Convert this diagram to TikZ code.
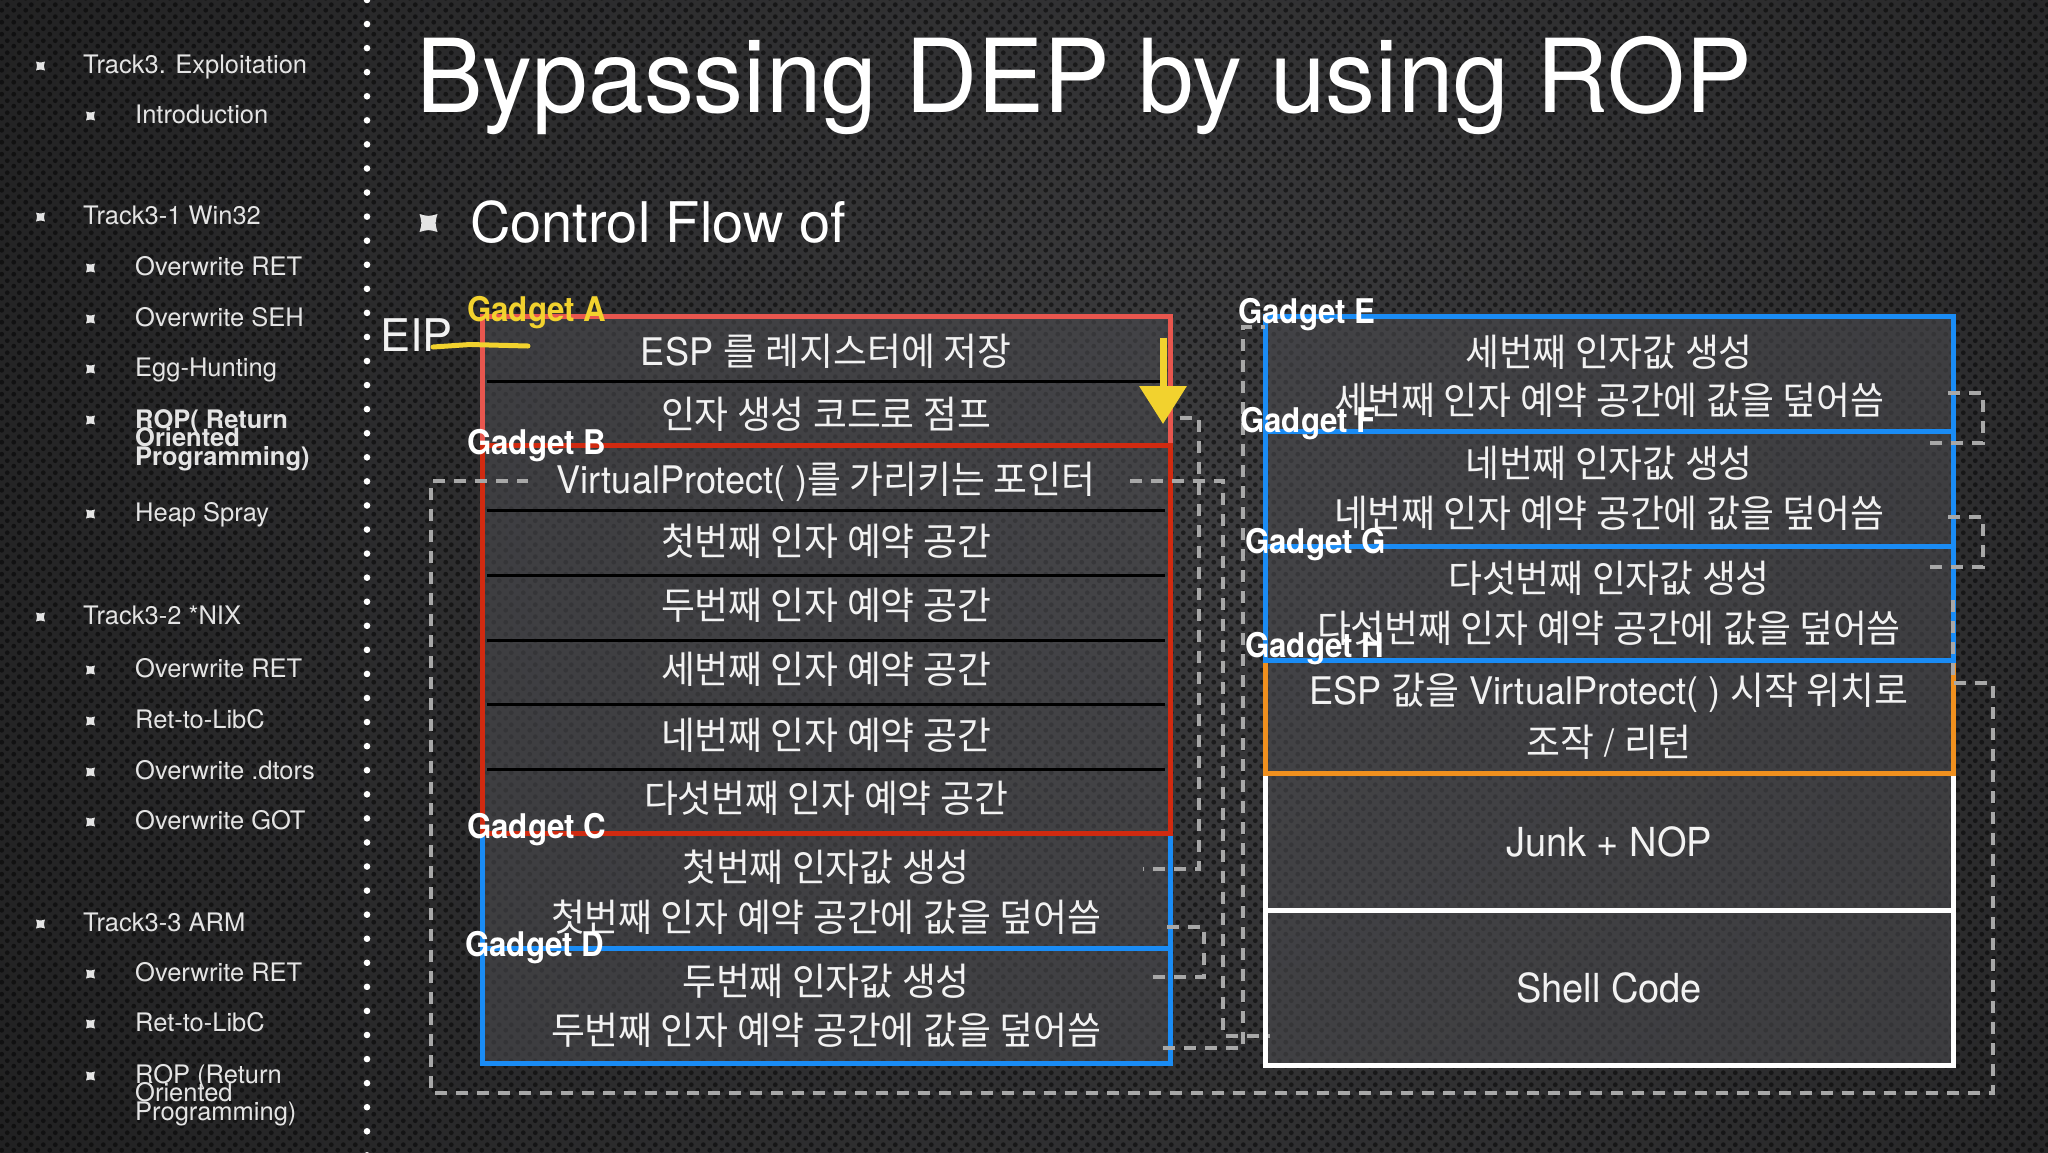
\documentclass[tikz,border=0pt]{standalone}
\usepackage{fontspec}
\setmainfont{TeX Gyre Heros}
\newfontfamily\bxf[FakeStretch=0.95]{TeX Gyre Heros}
\newfontfamily\krf[FakeStretch=0.97]{Noto Sans CJK KR}
\newfontfamily\gdf[FakeStretch=0.92]{TeX Gyre Heros}
\newfontfamily\ttlf[FakeStretch=0.98]{TeX Gyre Heros}
\usetikzlibrary{arrows.meta,patterns.meta}
\newcommand\K[1]{{\krf #1}}
\definecolor{bgin}{HTML}{3C3C3E}
\definecolor{bgout}{HTML}{0E0E0E}
\definecolor{boxfill}{HTML}{4A4A4E}
\definecolor{redA}{HTML}{E8564E}
\definecolor{redB}{HTML}{D12A10}
\definecolor{blueG}{HTML}{1A8CF5}
\definecolor{orangeH}{HTML}{F0901E}
\definecolor{dashgray}{HTML}{A8A8A8}
\definecolor{yel}{HTML}{F2D22E}
\definecolor{txt}{HTML}{F2F2F2}
\definecolor{sidetxt}{HTML}{E4E4E4}
\tikzdeclarepattern{
  name=holes,
  type=uncolored,
  bottom left={(0pt,0pt)},
  top right={(12pt,12pt)},
  tile size={(12pt,12pt)},
  code={
    \pgfpathcircle{\pgfqpoint{3pt}{3pt}}{2.6pt}
    \pgfpathcircle{\pgfqpoint{9pt}{9pt}}{2.6pt}
    \pgfusepath{fill}
  }
}
\tikzset{
  stackshape/.style={inner sep=0pt, outer sep=0pt, minimum width=688pt},
  rowtxt/.style={text=txt, inner sep=0pt, font=\bxf\fontsize{38}{40}\selectfont},
  bigtxt/.style={text=txt, inner sep=0pt, font=\bxf\fontsize{40}{44}\selectfont},
  gadlbl/.style={text=white, inner sep=0pt, anchor=base west, font=\gdf\bfseries\fontsize{34}{36}\selectfont},
  flow/.style={draw=dashgray, line width=4pt, dash pattern=on 12pt off 9pt},
  sepline/.style={draw=black, line width=3pt},
  side/.style={text=sidetxt, inner sep=0pt, anchor=base west, font=\fontsize{25.5}{28}\selectfont},
  sidebold/.style={side, font=\bfseries\fontsize{25.5}{28}\selectfont},
  border/.style={line width=5pt},
  kbul/.pic={\fill[sidetxt] (-1,-1) .. controls (0,-0.72) .. (1,-1) .. controls (0.72,0) .. (1,1) .. controls (0,0.72) .. (-1,1) .. controls (-0.72,0) .. (-1,-1) -- cycle;}
}
\begin{document}
\begin{tikzpicture}[x=1pt,y=-1pt]
\useasboundingbox (0,0) rectangle (2048,1152);
% background
\fill[bgout] (0,0) rectangle (2048,1152);
\begin{scope}
\clip (0,0) rectangle (2048,1152);
\shade[inner color=bgin, outer color=bgout] (1200,520) circle (2300);
\end{scope}
\fill[pattern={holes}, pattern color=black, opacity=0.5] (0,0) rectangle (2048,1152);
% dotted divider
\foreach \k in {0,...,48} \fill[white] (367,24.07*\k) circle (3.3);
% sidebar
\pic[scale=4.5] at (40.5,66) {kbul};
\node[side] (s1) at (83,73.5) {Track3. Exploitation};
\pic[scale=4.5] at (90.5,116) {kbul};
\node[side] (s2) at (135,123.5) {Introduction};
\pic[scale=4.5] at (40.5,217) {kbul};
\node[side] (s3) at (83,224.5) {Track3-1 Win32};
\pic[scale=4.5] at (90.5,268) {kbul};
\node[side] (s4) at (135,275.5) {Overwrite RET};
\pic[scale=4.5] at (90.5,319) {kbul};
\node[side] (s5) at (135,326.5) {Overwrite SEH};
\pic[scale=4.5] at (90.5,369) {kbul};
\node[side] (s6) at (135,376.5) {Egg-Hunting};
\pic[scale=4.5] at (90.5,420) {kbul};
\node[sidebold] (s7a) at (135,428) {ROP( Return};
\node[sidebold] (s7b) at (135,446.5) {Oriented};
\node[sidebold] (s7c) at (135,465) {Programming)};
\pic[scale=4.5] at (90.5,514) {kbul};
\node[side] (s8) at (135,521.5) {Heap Spray};
\pic[scale=4.5] at (40.5,617) {kbul};
\node[side] (s9) at (83,624.5) {Track3-2 *NIX};
\pic[scale=4.5] at (90.5,670) {kbul};
\node[side] (s10) at (135,677.5) {Overwrite RET};
\pic[scale=4.5] at (90.5,721) {kbul};
\node[side] (s11) at (135,728.5) {Ret-to-LibC};
\pic[scale=4.5] at (90.5,772) {kbul};
\node[side] (s12) at (135,779.5) {Overwrite .dtors};
\pic[scale=4.5] at (90.5,822) {kbul};
\node[side] (s13) at (135,829.5) {Overwrite GOT};
\pic[scale=4.5] at (40.5,924) {kbul};
\node[side] (s14) at (83,931.5) {Track3-3 ARM};
\pic[scale=4.5] at (90.5,974) {kbul};
\node[side] (s15) at (135,981.5) {Overwrite RET};
\pic[scale=4.5] at (90.5,1024) {kbul};
\node[side] (s16) at (135,1031.5) {Ret-to-LibC};
\pic[scale=4.5] at (90.5,1076) {kbul};
\node[side] (s17a) at (135,1083) {ROP (Return};
\node[side] (s17b) at (135,1101.5) {Oriented};
\node[side] (s17c) at (135,1120) {Programming)};
% title
\node[anchor=base west, text=white, inner sep=0pt, font=\ttlf\fontsize{102}{110}\selectfont] (title) at (416,112) {Bypassing DEP by using ROP};
\pic[scale=9] at (428.5,223) {kbul};
\node[anchor=base west, text=white, inner sep=0pt, font=\fontsize{56}{60}\selectfont] (cflow) at (470,242) {Control Flow of};
% stack shapes
\node[stackshape, minimum height=129pt] (boxA) at (826,380.5) {};
\node[stackshape, minimum height=388pt] (boxB) at (826,639) {};
\node[stackshape, minimum height=115pt] (boxC) at (826,890.5) {};
\node[stackshape, minimum height=115pt] (boxD) at (826,1005.5) {};
\node[stackshape, minimum height=115pt] (boxE) at (1609,373.5) {};
\node[stackshape, minimum height=115pt] (boxF) at (1609,488.5) {};
\node[stackshape, minimum height=114pt] (boxG) at (1609,603) {};
\node[stackshape, minimum height=113pt] (boxH) at (1609,716.5) {};
\node[stackshape, minimum height=137pt] (boxJ) at (1609,841.5) {};
\node[stackshape, minimum height=155pt] (boxS) at (1609,987.5) {};
% fills
\foreach \b in {boxA,boxB,boxC,boxD,boxE,boxF,boxG,boxH,boxJ,boxS}
  \fill[boxfill, opacity=0.6] (\b.north west) rectangle (\b.south east);
% separators
\foreach \yy in {381,510,575,640,704,769} \draw[sepline] (487,\yy) -- (1165,\yy);
% borders
\draw[border, redA] (boxA.north west) rectangle (boxA.south east);
\draw[border, blueG] (boxD.north west) rectangle (boxD.south east);
\draw[border, blueG] (boxC.north west) rectangle (boxC.south east);
\draw[border, redB] (boxB.north west) rectangle (boxB.south east);
\draw[border, white] (boxS.north west) rectangle (boxS.south east);
\draw[border, white] (boxJ.north west) rectangle (boxJ.south east);
\draw[border, orangeH] (boxH.north west) rectangle (boxH.south east);
\draw[border, blueG] (boxG.north west) rectangle (boxG.south east);
\draw[border, blueG] (boxF.north west) rectangle (boxF.south east);
\draw[border, blueG] (boxE.north west) rectangle (boxE.south east);
% row texts left
\node[rowtxt] (a1) at (826,351) {ESP \K{를 레지스터에 저장}};
\node[rowtxt] (a2) at (826,414) {\K{인자 생성 코드로 점프}};
\node[rowtxt] (b1) at (826,482) {VirtualProtect( )\K{를 가리키는 포인터}};
\node[rowtxt] (b2) at (826,541) {\K{첫번째 인자 예약 공간}};
\node[rowtxt] (b3) at (826,605) {\K{두번째 인자 예약 공간}};
\node[rowtxt] (b4) at (826,669) {\K{세번째 인자 예약 공간}};
\node[rowtxt] (b5) at (826,735) {\K{네번째 인자 예약 공간}};
\node[rowtxt] (b6) at (826,798) {\K{다섯번째 인자 예약 공간}};
\node[rowtxt] (c1) at (826,867) {\K{첫번째 인자값 생성}};
\node[rowtxt] (c2) at (826,917) {\K{첫번째 인자 예약 공간에 값을 덮어씀}};
\node[rowtxt] (d1) at (826,981) {\K{두번째 인자값 생성}};
\node[rowtxt] (d2) at (826,1030) {\K{두번째 인자 예약 공간에 값을 덮어씀}};
% row texts right
\node[rowtxt] (e1) at (1609,352) {\K{세번째 인자값 생성}};
\node[rowtxt] (e2) at (1609,400) {\K{세번째 인자 예약 공간에 값을 덮어씀}};
\node[rowtxt] (f1) at (1609,463) {\K{네번째 인자값 생성}};
\node[rowtxt] (f2) at (1609,513) {\K{네번째 인자 예약 공간에 값을 덮어씀}};
\node[rowtxt] (g1) at (1609,578) {\K{다섯번째 인자값 생성}};
\node[rowtxt] (g2) at (1609,628) {\K{다섯번째 인자 예약 공간에 값을 덮어씀}};
\node[rowtxt] (h1) at (1609,693) {ESP \K{값을} VirtualProtect( ) \K{시작 위치로}};
\node[rowtxt] (h2) at (1609,742) {\K{조작} / \K{리턴}};
\node[bigtxt] (junk) at (1609,842) {Junk + NOP};
\node[bigtxt] (shell) at (1609,988) {Shell Code};
% connector coordinates
\coordinate (pA) at (1180,418);  \coordinate (tAC) at (1199,600); \coordinate (pC) at (1143,869);
\coordinate (pC2) at (1167,927); \coordinate (tCD) at (1204,950); \coordinate (pD) at (1150,977);
\coordinate (pD2) at (1163,1048); \coordinate (tDE) at (1243,700); \coordinate (pE) at (1265,327);
\coordinate (pE2) at (1948,393); \coordinate (tEF) at (1983,420); \coordinate (pF) at (1928,443);
\coordinate (pF2) at (1948,517); \coordinate (tFG) at (1983,540); \coordinate (pG) at (1928,567);
\coordinate (pG2) at (1953,600); \coordinate (tG1) at (1993,683); \coordinate (tG2) at (431,1093); \coordinate (pVP) at (528,481);
\coordinate (pVP2) at (1130,481); \coordinate (tVS) at (1223,800); \coordinate (pS) at (1270,1036);
% connectors
\draw[flow] (pA) -| (tAC) |- (pC);
\draw[flow] (pC2) -| (tCD) |- (pD);
\draw[flow] (pD2) -| (tDE) |- (pE);
\draw[flow] (pE2) -| (tEF) |- (pF);
\draw[flow] (pF2) -| (tFG) |- (pG);
\draw[flow] (pG2) |- (tG1) |- (tG2) |- (pVP);
\draw[flow] (pVP2) -| (tVS) |- (pS);
% EIP and yellow marks
\node[anchor=base west, text=txt, inner sep=0pt, font=\fontsize{45}{50}\selectfont] (eip) at (380,351) {EIP};
\coordinate (eipS) at (433,347); \coordinate (eipM) at (470,344.5); \coordinate (eipE) at (528,346);
\draw[yel, line width=5pt, line cap=round] (eipS) -- (eipM) -- (eipE);
\coordinate (arS) at (1163,338); \coordinate (arE) at (1163,424);
\draw[yel, line width=7pt, -{Triangle[width=46pt,length=38pt]}] (arS) -- (arE);
% gadget labels
\node[gadlbl, text=yel] (gA) at (467,321) {Gadget A};
\node[gadlbl] (gB) at (467,454) {Gadget B};
\node[gadlbl] (gC) at (467,838) {Gadget C};
\node[gadlbl] (gD) at (465,956) {Gadget D};
\node[gadlbl] (gE) at (1238,323) {Gadget E};
\node[gadlbl] (gF) at (1240,432) {Gadget F};
\node[gadlbl] (gG) at (1245,553) {Gadget G};
\node[gadlbl] (gH) at (1245,657) {Gadget H};
\end{tikzpicture}
\end{document}
